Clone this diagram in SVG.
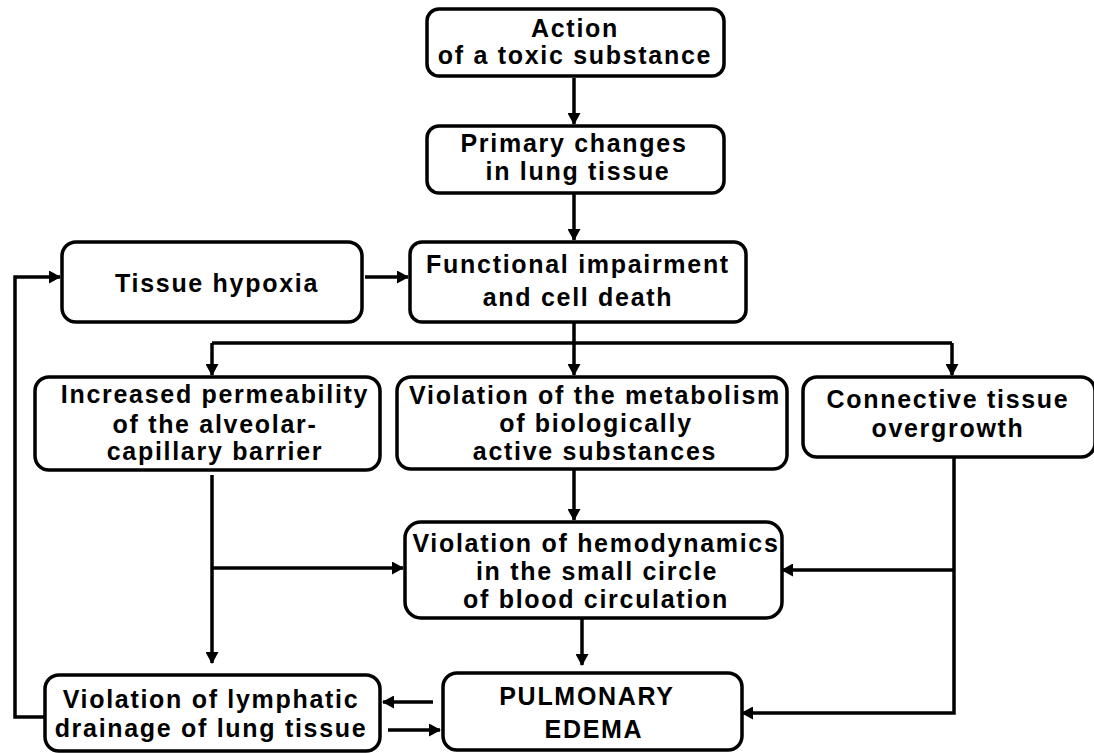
<svg xmlns="http://www.w3.org/2000/svg" width="1094" height="753" viewBox="0 0 1094 753">
<style>
.box{fill:#fff;stroke:#000;stroke-width:3.5}
.t{font-family:"Liberation Sans",Arial,sans-serif;font-weight:bold;font-size:25px;letter-spacing:1.7px;text-anchor:middle;fill:#000}
.c{fill:none;stroke:#000;stroke-width:3.5}
</style>
<defs>
<marker id="ah" markerWidth="12" markerHeight="13" refX="11" refY="6.5" orient="auto" markerUnits="userSpaceOnUse">
<path d="M0,0 L12,6.5 L0,13 Z" fill="#000"/>
</marker>
</defs>
<rect width="1094" height="753" fill="#fff"/>
<g id="connectors">
<path class="c" d="M574,78 V124" marker-end="url(#ah)"/>
<path class="c" d="M574,194 V240" marker-end="url(#ah)"/>
<path class="c" d="M365,277 H408" marker-end="url(#ah)"/>
<path class="c" d="M574,323 V343 M212,343 H952"/>
<path class="c" d="M212,343 V375" marker-end="url(#ah)"/>
<path class="c" d="M574,343 V375" marker-end="url(#ah)"/>
<path class="c" d="M952,343 V375" marker-end="url(#ah)"/>
<path class="c" d="M574,470 V520" marker-end="url(#ah)"/>
<path class="c" d="M212,475 V663" marker-end="url(#ah)"/>
<path class="c" d="M212,568 H403" marker-end="url(#ah)"/>
<path class="c" d="M954,458 V713 H742" marker-end="url(#ah)"/>
<path class="c" d="M954,570 H782" marker-end="url(#ah)"/>
<path class="c" d="M582,619 V665" marker-end="url(#ah)"/>
<path class="c" d="M433,702 H383" marker-end="url(#ah)"/>
<path class="c" d="M388,730 H440" marker-end="url(#ah)"/>
<path class="c" d="M45,717 H15 V277 H60" marker-end="url(#ah)"/>
</g>
<g id="n1"><rect class="box" x="427" y="9" width="297" height="67" rx="12"/>
<text class="t" x="575" y="37">Action</text><text class="t" x="575" y="64">of a toxic substance</text></g>
<g id="n2"><rect class="box" x="427" y="126" width="297" height="67" rx="12"/>
<text class="t" x="574" y="152">Primary changes</text><text class="t" x="578" y="180">in lung tissue</text></g>
<g id="n3"><rect class="box" x="410" y="242" width="336" height="80" rx="12"/>
<text class="t" x="578" y="273">Functional impairment</text><text class="t" x="578" y="306">and cell death</text></g>
<g id="n4"><rect class="box" x="62" y="242" width="300" height="80" rx="14"/>
<text class="t" x="217" y="292">Tissue hypoxia</text></g>
<g id="n5"><rect class="box" x="35" y="377" width="345" height="93" rx="14"/>
<text class="t" x="215" y="403">Increased permeability</text><text class="t" x="215" y="433">of the alveolar-</text><text class="t" x="215" y="460">capillary barrier</text></g>
<g id="n6"><rect class="box" x="397" y="377" width="390" height="92" rx="14"/>
<text class="t" x="595" y="404">Violation of the metabolism</text><text class="t" x="596" y="432">of biologically</text><text class="t" x="595" y="460">active substances</text></g>
<g id="n7"><rect class="box" x="803" y="377" width="292" height="80" rx="14"/>
<text class="t" x="948" y="408">Connective tissue</text><text class="t" x="948" y="437">overgrowth</text></g>
<g id="n8"><rect class="box" x="405" y="522" width="377" height="96" rx="16"/>
<text class="t" x="596" y="552">Violation of hemodynamics</text><text class="t" x="597" y="580">in the small circle</text><text class="t" x="596" y="608">of blood circulation</text></g>
<g id="n9"><rect class="box" x="45" y="675" width="335" height="76" rx="14"/>
<text class="t" x="211" y="708">Violation of lymphatic</text><text class="t" x="211" y="737">drainage of lung tissue</text></g>
<g id="n10"><rect class="box" x="443" y="673" width="299" height="77" rx="14"/>
<text class="t" x="587" y="705">PULMONARY</text><text class="t" x="594" y="738">EDEMA</text></g>
</svg>
